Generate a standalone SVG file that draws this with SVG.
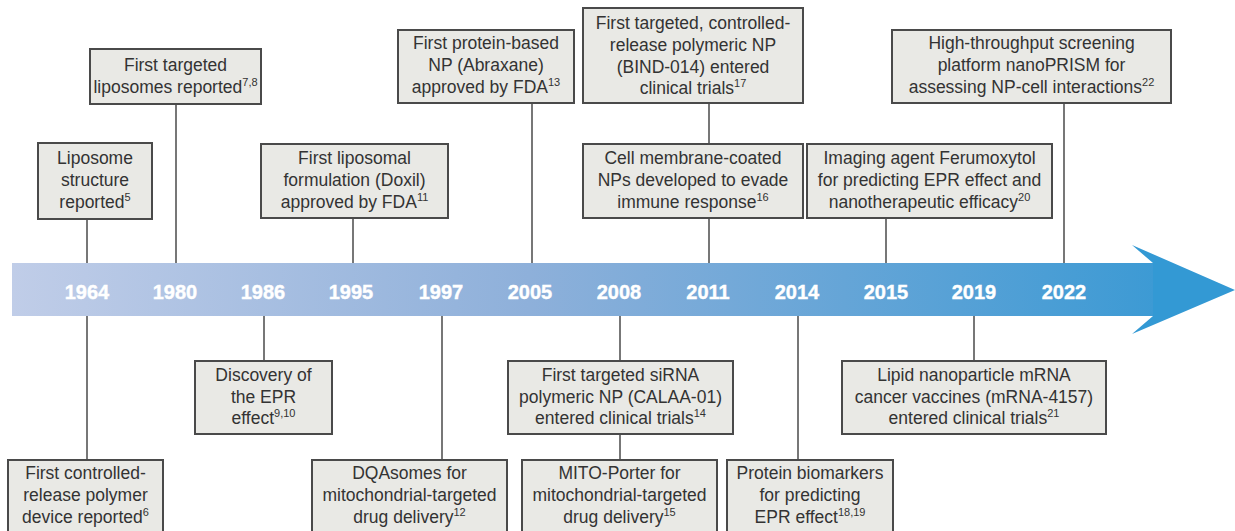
<svg xmlns="http://www.w3.org/2000/svg" width="1235" height="531" viewBox="0 0 1235 531">
<defs>
<linearGradient id="band" x1="12" y1="0" x2="1160" y2="0" gradientUnits="userSpaceOnUse">
<stop offset="0" stop-color="#c0cde8"/>
<stop offset="0.45" stop-color="#8eb0da"/>
<stop offset="1" stop-color="#3c9ad4"/>
</linearGradient>
<style>
.box{fill:#e9e9e5;stroke:#4a4a4a;stroke-width:2}
.t{font-family:"Liberation Sans",Arial,sans-serif;font-size:17.5px;fill:#333;text-anchor:middle}
.s{font-size:11px}
.yr{font-family:"Liberation Sans",Arial,sans-serif;font-size:20px;font-weight:bold;fill:#fff;text-anchor:middle;stroke:#fff;stroke-width:0.4}
.c{stroke:#555;stroke-width:1.6;fill:none}
</style>
</defs>
<rect width="1235" height="531" fill="#fff"/>
<g id="timeline">
<rect x="12" y="263" width="1142" height="53" fill="url(#band)"/>
<polygon points="1132,245 1235,290 1132,334 1153,316 1153,263" fill="#3399d4"/>
<text class="yr" x="87" y="299">1964</text>
<text class="yr" x="175" y="299">1980</text>
<text class="yr" x="263" y="299">1986</text>
<text class="yr" x="351" y="299">1995</text>
<text class="yr" x="441" y="299">1997</text>
<text class="yr" x="530" y="299">2005</text>
<text class="yr" x="619" y="299">2008</text>
<text class="yr" x="708" y="299">2011</text>
<text class="yr" x="797" y="299">2014</text>
<text class="yr" x="886" y="299">2015</text>
<text class="yr" x="974" y="299">2019</text>
<text class="yr" x="1064" y="299">2022</text>
</g>
<g id="connectors">
<line class="c" x1="87" y1="219" x2="87" y2="263"/>
<line class="c" x1="176" y1="104" x2="176" y2="263"/>
<line class="c" x1="353" y1="218" x2="353" y2="263"/>
<line class="c" x1="532" y1="103" x2="532" y2="263"/>
<line class="c" x1="709" y1="103" x2="709" y2="144"/>
<line class="c" x1="709" y1="218" x2="709" y2="263"/>
<line class="c" x1="886" y1="218" x2="886" y2="263"/>
<line class="c" x1="1064" y1="103" x2="1064" y2="263"/>
<line class="c" x1="87" y1="316" x2="87" y2="460"/>
<line class="c" x1="264" y1="316" x2="264" y2="361"/>
<line class="c" x1="442" y1="316" x2="442" y2="460"/>
<line class="c" x1="620" y1="316" x2="620" y2="361"/>
<line class="c" x1="620" y1="434" x2="620" y2="460"/>
<line class="c" x1="798" y1="316" x2="798" y2="460"/>
<line class="c" x1="974" y1="316" x2="974" y2="361"/>
</g>
<g id="n1964a">
<rect class="box" x="38" y="143" width="114" height="76"/>
<text class="t" x="95" y="164">Liposome</text>
<text class="t" x="95" y="186">structure</text>
<text class="t" x="95" y="208">reported<tspan class="s" dy="-7">5</tspan></text>
</g>
<g id="n1980">
<rect class="box" x="90" y="49" width="171" height="55"/>
<text class="t" x="175.5" y="71">First targeted</text>
<text class="t" x="175.5" y="93">liposomes reported<tspan class="s" dy="-7">7,8</tspan></text>
</g>
<g id="n1995">
<rect class="box" x="261" y="144" width="187" height="74"/>
<text class="t" x="354.5" y="164">First liposomal</text>
<text class="t" x="354.5" y="186">formulation (Doxil)</text>
<text class="t" x="354.5" y="208">approved by FDA<tspan class="s" dy="-7">11</tspan></text>
</g>
<g id="n2005">
<rect class="box" x="398" y="30" width="176" height="73"/>
<text class="t" x="486" y="49">First protein-based</text>
<text class="t" x="486" y="71">NP (Abraxane)</text>
<text class="t" x="486" y="93">approved by FDA<tspan class="s" dy="-7">13</tspan></text>
</g>
<g id="n2011a">
<rect class="box" x="583" y="8" width="220" height="95"/>
<text class="t" x="693" y="29">First targeted, controlled-</text>
<text class="t" x="693" y="51">release polymeric NP</text>
<text class="t" x="693" y="73">(BIND-014) entered</text>
<text class="t" x="693" y="94">clinical trials<tspan class="s" dy="-7">17</tspan></text>
</g>
<g id="n2011b">
<rect class="box" x="583" y="144" width="220" height="74"/>
<text class="t" x="693" y="164">Cell membrane-coated</text>
<text class="t" x="693" y="186">NPs developed to evade</text>
<text class="t" x="693" y="208">immune response<tspan class="s" dy="-7">16</tspan></text>
</g>
<g id="n2015">
<rect class="box" x="807" y="144" width="245" height="74"/>
<text class="t" x="929.5" y="164">Imaging agent Ferumoxytol</text>
<text class="t" x="929.5" y="186">for predicting EPR effect and</text>
<text class="t" x="929.5" y="208">nanotherapeutic efficacy<tspan class="s" dy="-7">20</tspan></text>
</g>
<g id="n2022">
<rect class="box" x="892" y="30" width="279" height="73"/>
<text class="t" x="1031.5" y="49">High-throughput screening</text>
<text class="t" x="1031.5" y="71">platform nanoPRISM for</text>
<text class="t" x="1031.5" y="93">assessing NP-cell interactions<tspan class="s" dy="-7">22</tspan></text>
</g>
<g id="n1964b">
<rect class="box" x="8" y="460" width="155" height="80"/>
<text class="t" x="85.5" y="479">First controlled-</text>
<text class="t" x="85.5" y="501">release polymer</text>
<text class="t" x="85.5" y="523">device reported<tspan class="s" dy="-7">6</tspan></text>
</g>
<g id="n1986">
<rect class="box" x="195" y="361" width="137" height="73"/>
<text class="t" x="263.5" y="381">Discovery of</text>
<text class="t" x="263.5" y="403">the EPR</text>
<text class="t" x="263.5" y="424">effect<tspan class="s" dy="-7">9,10</tspan></text>
</g>
<g id="n1997">
<rect class="box" x="312" y="460" width="195" height="80"/>
<text class="t" x="409.5" y="479">DQAsomes for</text>
<text class="t" x="409.5" y="501">mitochondrial-targeted</text>
<text class="t" x="409.5" y="523">drug delivery<tspan class="s" dy="-7">12</tspan></text>
</g>
<g id="n2008a">
<rect class="box" x="508" y="361" width="225" height="73"/>
<text class="t" x="620.5" y="381">First targeted siRNA</text>
<text class="t" x="620.5" y="403">polymeric NP (CALAA-01)</text>
<text class="t" x="620.5" y="424">entered clinical trials<tspan class="s" dy="-7">14</tspan></text>
</g>
<g id="n2008b">
<rect class="box" x="522" y="460" width="195" height="80"/>
<text class="t" x="619.5" y="479">MITO-Porter for</text>
<text class="t" x="619.5" y="501">mitochondrial-targeted</text>
<text class="t" x="619.5" y="523">drug delivery<tspan class="s" dy="-7">15</tspan></text>
</g>
<g id="n2014">
<rect class="box" x="727" y="460" width="166" height="80"/>
<text class="t" x="810" y="479">Protein biomarkers</text>
<text class="t" x="810" y="501">for predicting</text>
<text class="t" x="810" y="523">EPR effect<tspan class="s" dy="-7">18,19</tspan></text>
</g>
<g id="n2019">
<rect class="box" x="842" y="361" width="264" height="73"/>
<text class="t" x="974" y="381">Lipid nanoparticle mRNA</text>
<text class="t" x="974" y="403">cancer vaccines (mRNA-4157)</text>
<text class="t" x="974" y="424">entered clinical trials<tspan class="s" dy="-7">21</tspan></text>
</g>
</svg>
